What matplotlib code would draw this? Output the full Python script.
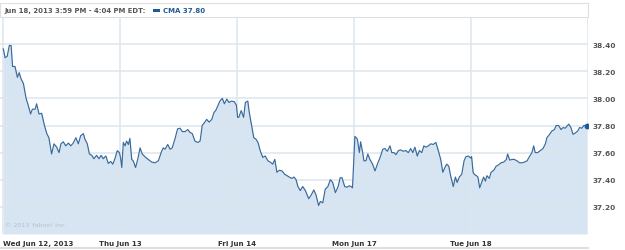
import matplotlib
matplotlib.use("Agg")
import matplotlib.pyplot as plt
from matplotlib.patches import Rectangle
import numpy as np

# ---- data (minutes into trading session, price) ----
day_labels = ["Wed Jun 12, 2013", "Thu Jun 13", "Fri Jun 14", "Mon Jun 17", "Tue Jun 18"]
session_minutes = 390

d1_min = [1, 7, 14, 21, 27, 32, 40, 48, 54, 60, 68, 77, 84, 92, 98, 107, 112, 120, 129, 137,
          146, 153, 162, 170, 179, 187, 193, 201, 209, 218, 226, 234, 243, 251, 259, 268, 273,
          281, 288, 296, 303, 312, 320, 327, 334, 343, 351, 359, 366, 373, 381, 388]
d1_px = [38.365, 38.30, 38.31, 38.39, 38.39, 38.235, 38.235, 38.155, 38.19, 38.145, 38.11, 38.00,
         37.95, 37.885, 37.92, 37.92, 37.96, 37.885, 37.89, 37.81, 37.74, 37.71, 37.59, 37.665,
         37.64, 37.60, 37.665, 37.68, 37.65, 37.67, 37.65, 37.67, 37.71, 37.665, 37.725, 37.74,
         37.70, 37.665, 37.59, 37.58, 37.555, 37.58, 37.555, 37.58, 37.555, 37.575, 37.52, 37.535,
         37.515, 37.555, 37.615, 37.60]

d2_min = [2, 6, 11, 17, 22, 28, 33, 39, 44, 52, 59, 67, 74, 83, 94, 106, 117, 128, 137, 144, 150,
          159, 167, 174, 183, 192, 200, 208, 217, 226, 233, 241, 250, 259, 267, 274, 281, 289, 297,
          306, 313, 319, 326, 333, 341, 348, 356, 363, 372, 381, 388]
d2_px = [37.56, 37.49, 37.675, 37.65, 37.685, 37.66, 37.705, 37.55, 37.54, 37.49, 37.55, 37.635,
         37.59, 37.57, 37.55, 37.53, 37.525, 37.54, 37.60, 37.635, 37.625, 37.66, 37.625, 37.635,
         37.70, 37.775, 37.78, 37.755, 37.755, 37.77, 37.75, 37.74, 37.685, 37.675, 37.685, 37.80,
         37.82, 37.845, 37.825, 37.845, 37.895, 37.91, 37.945, 37.98, 38.00, 37.96, 37.995, 37.97,
         37.98, 37.975, 37.95]

d3_min = [2, 6, 14, 22, 28, 36, 41, 48, 56, 63, 70, 78, 86, 94, 103, 111, 119, 126, 133, 141, 150,
          159, 167, 174, 183, 190, 197, 203, 211, 219, 228, 239, 248, 256, 263, 272, 278, 286, 294,
          303, 311, 319, 328, 337, 344, 350, 359, 367, 374, 381, 385]
d3_px = [37.86, 37.86, 37.91, 37.86, 37.97, 37.98, 37.895, 37.81, 37.71, 37.70, 37.675, 37.61,
         37.565, 37.575, 37.54, 37.53, 37.515, 37.55, 37.455, 37.47, 37.465, 37.44, 37.43, 37.42,
         37.41, 37.42, 37.40, 37.35, 37.32, 37.35, 37.32, 37.26, 37.29, 37.325, 37.29, 37.21,
         37.24, 37.23, 37.33, 37.35, 37.40, 37.38, 37.305, 37.35, 37.415, 37.415, 37.35, 37.345,
         37.355, 37.35, 37.34]

d4_min = [3, 11, 18, 22, 29, 33, 40, 46, 53, 62, 70, 78, 87, 96, 103, 111, 120, 126, 133, 140, 148,
          156, 164, 173, 181, 189, 196, 203, 211, 218, 226, 233, 240, 248, 256, 264, 273, 281, 289,
          296, 303, 309, 316, 322, 331, 338, 344, 351, 359, 367, 373, 381, 389]
d4_px = [37.72, 37.70, 37.60, 37.68, 37.60, 37.54, 37.54, 37.59, 37.55, 37.515, 37.465, 37.515,
         37.565, 37.625, 37.63, 37.61, 37.65, 37.60, 37.60, 37.585, 37.615, 37.62, 37.61, 37.615,
         37.60, 37.63, 37.60, 37.64, 37.575, 37.615, 37.60, 37.65, 37.64, 37.65, 37.665, 37.66,
         37.675, 37.615, 37.55, 37.455, 37.49, 37.515, 37.50, 37.43, 37.35, 37.42, 37.38, 37.42,
         37.44, 37.54, 37.57, 37.575, 37.56]

d5_min = [2, 7, 11, 18, 23, 29, 37, 42, 48, 53, 61, 67, 76, 84, 92, 100, 109, 118, 122, 129, 137,
          144, 153, 162, 170, 178, 187, 196, 203, 209, 214, 222, 231, 240, 248, 253, 262, 270, 278,
          284, 292, 300, 307, 314, 326, 333, 340, 348, 356, 362, 370, 376, 385]
d5_px = [37.57, 37.455, 37.44, 37.43, 37.42, 37.34, 37.39, 37.42, 37.39, 37.43, 37.41, 37.455,
         37.47, 37.50, 37.51, 37.525, 37.53, 37.55, 37.59, 37.545, 37.55, 37.55, 37.54, 37.525,
         37.525, 37.53, 37.54, 37.575, 37.60, 37.65, 37.60, 37.60, 37.615, 37.63, 37.665, 37.71,
         37.735, 37.76, 37.77, 37.80, 37.80, 37.77, 37.785, 37.78, 37.81, 37.785, 37.735, 37.745,
         37.76, 37.785, 37.78, 37.80, 37.80]

y_ticks = [37.20, 37.40, 37.60, 37.80, 38.00, 38.20, 38.40]
header_text = "Jun 18, 2013 3:59 PM - 4:04 PM EDT:"
series_label = "CMA 37.80"
copyright_text = "\u00a9 2013 Yahoo! Inc."

# ---- build continuous series ----
days_min = [d1_min, d2_min, d3_min, d4_min, d5_min]
days_px = [d1_px, d2_px, d3_px, d4_px, d5_px]
x = np.concatenate([np.array(m) + i * session_minutes for i, m in enumerate(days_min)])
y = np.concatenate([np.array(p) for p in days_px])

W, H = 625, 251
fig = plt.figure(figsize=(W / 100, H / 100), dpi=100)

def fx(px):
    return px / W

def fy(py):
    return 1 - py / H

ax = fig.add_axes([fx(0), fy(235), fx(588), (235 - 18) / H])
ymin, ymax = 37.0, 38.6
ax.set_ylim(ymin, ymax)
ax.set_xlim(-10, 5 * session_minutes)

grid_c = "#dde5ee"
ax.fill_between(x, y, ymin, color="#d6e5f1", lw=0, zorder=1)
for v in y_ticks:
    ax.axhline(v, color=grid_c, lw=1.1, zorder=2)
for i in range(6):
    ax.axvline(i * session_minutes, color=grid_c, lw=1.1, zorder=2)
ax.plot(x, y, color="#386a9c", lw=0.85, zorder=3)
ax.plot([x[-1]], [y[-1]], "o", color="#1f5a96", ms=3.2, zorder=4)

for s in ax.spines.values():
    s.set_visible(False)

ax.yaxis.tick_right()
ax.set_yticks(y_ticks)
ax.set_yticklabels([f"{v:.2f}" for v in y_ticks])
ax.tick_params(axis="y", length=0, pad=3, labelsize=5.3, labelcolor="#555555")
for lbl in ax.get_yticklabels():
    lbl.set_fontweight("bold")

ax.set_xticks([i * session_minutes for i in range(5)])
ax.set_xticklabels(day_labels)
ax.tick_params(axis="x", length=0, pad=4, labelsize=5.1, labelcolor="#333333")
for i, lbl in enumerate(ax.get_xticklabels()):
    lbl.set_fontweight("bold")
    lbl.set_ha("left" if i == 0 else "center")

# header box
fig.patches.append(Rectangle((fx(0), fy(18)), fx(588), (18 - 4) / H, transform=fig.transFigure,
                             facecolor="white", edgecolor="#dcdfe3", lw=0.8, zorder=0))
fig.text(fx(4), fy(11), header_text, fontsize=4.95, fontweight="bold", color="#555555",
         ha="left", va="center")
fig.patches.append(Rectangle((fx(153), fy(12.5)), fx(7), 3 / H, transform=fig.transFigure,
                             facecolor="#1f5a96", edgecolor="none"))
fig.text(fx(163), fy(11), series_label, fontsize=5.0, fontweight="bold", color="#1f5a96",
         ha="left", va="center")

# copyright
ax.text(0.008, 0.03, copyright_text, transform=ax.transAxes, fontsize=4.6, color="#b5c2ce",
        ha="left", va="bottom", zorder=5)

# bottom rule
fig.add_artist(plt.Line2D([fx(0), fx(588)], [fy(249), fy(249)], transform=fig.transFigure,
                          color="#d8d8d8", lw=1.2))

fig.savefig("out.png", dpi=100)
